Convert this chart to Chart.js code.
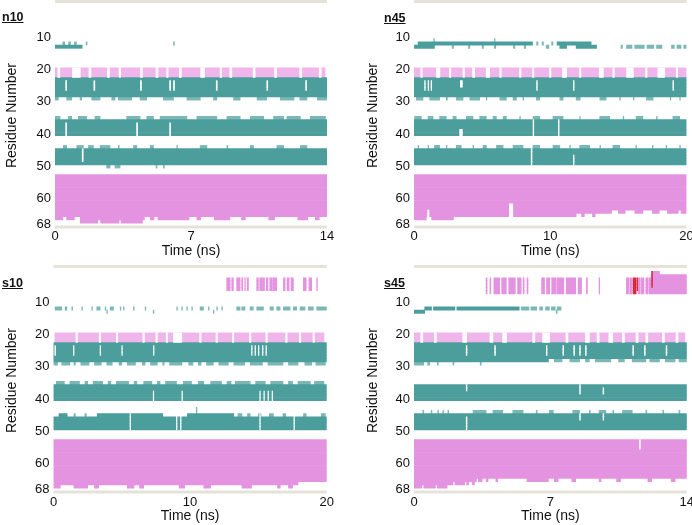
<!DOCTYPE html>
<html>
<head>
<meta charset="utf-8">
<script src="https://cdn.jsdelivr.net/npm/chart.js@4"></script>
<style>
  body { margin: 0; width: 692px; height: 525px; overflow: hidden; position: relative; background: #fff; }
  .box { position: absolute; }
  .tag { position: absolute; font: bold 12.5px "Liberation Sans", Arial, sans-serif; line-height: 14px; text-decoration: underline; color: #111; }
</style>
</head>
<body>
<div class="box" style="left:0;top:0"><canvas id="n10" width="340" height="262"></canvas></div>
<div class="box" style="left:346px;top:0"><canvas id="n45" width="350" height="262"></canvas></div>
<div class="box" style="left:0;top:262px"><canvas id="s10" width="340" height="263"></canvas></div>
<div class="box" style="left:346px;top:262px"><canvas id="s45" width="350" height="263"></canvas></div>
<div class="tag" style="left:2px;top:10px">n10</div>
<div class="tag" style="left:384px;top:11px">n45</div>
<div class="tag" style="left:2px;top:276px">s10</div>
<div class="tag" style="left:384px;top:276px">s45</div>
<script>
// each entry: [first residue, last residue, [[start ns, end ns], ...]]
const residueTicks = [10, 20, 30, 40, 50, 60, 68];
const n10TimeTicks = [0, 7, 14];
const n45TimeTicks = [0, 10, 20];
const s10TimeTicks = [0, 10, 20];
const s45TimeTicks = [0, 7, 14];

const n10Teal = [
  [13, 13, [[0,1.4]]],
  [23, 28, [[0,14]]],
  [36, 40, [[0,14]]],
  [45, 49, [[0,14]]]
];
const n10Edge = [
  [12, 12, [[0.4,0.5],[0.7,0.8],[1.0,1.1],[1.6,1.65],[6.1,6.15]]],
  [29, 29, [[0,0.17],[0.6,0.86],[1.29,1.37],[1.89,2.32],[2.92,3.09],[3.26,3.95],[4.38,4.72],[5.58,6.1],[6.79,7.48],[8.16,8.33],[9.19,9.53],[10.4,10.9],[11.6,12.3],[12.6,12.97],[13.5,14]]],
  [35, 35, [[0,0.26],[0.69,0.86],[1.2,1.63],[2.06,2.32],[3.69,4.38],[4.72,5.07],[5.41,6.79],[7.3,8.33],[8.85,9.53],[10.05,10.74],[11.25,11.77],[11.94,12.63],[13.14,13.92]]],
  [44, 44, [[0.43,0.6],[1.12,1.46],[1.72,1.98],[2.32,2.83],[3.26,3.3],[4.04,4.21],[4.9,5.07],[6.27,6.3],[7.47,7.82],[8.85,8.9],[10.05,10.22],[11.42,11.77],[12.63,12.97]]],
  [50, 50, [[2.66,2.83],[3.09,3.35],[5.2,5.25],[5.58,5.63]]]
];
const n10Pink = [
  [53, 65, [[0,14]]],
  [66, 66, [[0,0.4],[0.6,1.0],[1.3,4.6],[4.9,5.1],[5.3,6.9],[7.3,7.5],[8.2,9.0],[9.6,9.8],[11.0,11.3],[12.5,13.0],[13.4,13.6]]],
  [67, 67, [[1.3,2.2],[2.35,3.3],[3.4,4.5]]]
];
const n10Band = [[20, 22, [[0,13.9]]]];
const n10Red = [];
const n10Gaps = [
  [20, 22, [[0.15,0.25],[0.9,1.3],[1.75,1.85],[2.7,2.8],[3.3,3.38],[4.4,4.5],[5.2,5.3],[5.75,5.82],[6.4,6.5],[7.5,7.7],[8.5,8.58],[9.0,9.1],[10.2,10.3],[11.3,11.4],[12.6,12.7],[13.6,13.7]]],
  [24, 26, [[0.55,0.6],[2.0,2.05],[4.4,4.45],[5.9,5.95],[6.1,6.15],[8.3,8.35],[10.9,10.95],[12.9,12.95]]],
  [37, 40, [[0.55,0.6],[4.2,4.25],[5.9,5.95]]],
  [45, 48, [[1.4,1.45]]]
];

const n45Teal = [
  [12, 12, [[0.3,8.7],[10.5,13.0]]],
  [13, 13, [[0,1.5],[10.7,11.2],[11.9,13.4]]],
  [23, 28, [[0,20]]],
  [36, 40, [[0,20]]],
  [45, 49, [[0,20]]]
];
const n45Edge = [
  [11, 11, [[1.45,1.5],[5.9,5.95]]],
  [12, 12, [[9.0,9.1],[9.4,9.5],[10.1,10.2]]],
  [13, 13, [[2.8,2.9],[4.0,4.1],[5.0,5.1],[5.9,6.0],[7.3,7.4],[8.1,8.2],[9.7,9.9],[15.2,15.3],[15.6,16.0],[16.2,16.9],[17.1,17.6],[17.8,18.2],[18.9,19.1],[19.3,19.6],[19.8,20]]],
  [29, 29, [[0.17,0.66],[1.15,1.88],[2.37,2.45],[3.1,3.6],[4.1,4.82],[5.3,5.35],[6.3,6.78],[7.27,7.52],[8.0,8.05],[8.98,9.23],[10.7,10.95],[11.9,12.2],[13.64,14.1],[15.1,15.15],[16.1,16.15],[17.06,17.55],[18.8,18.85],[19.5,19.55]]],
  [35, 35, [[0.05,0.54],[1.03,1.4],[1.88,2.37],[2.86,3.1],[3.84,4.33],[4.82,5.31],[5.8,6.05],[6.54,6.78],[7.76,7.81],[8.74,9.23],[10.2,10.94],[12.16,12.2],[13.63,14.37],[15.35,15.4],[16.3,16.8],[17.8,17.85],[19.0,19.5]]],
  [44, 44, [[0.3,0.35],[1.03,1.08],[1.5,1.88],[2.37,2.42],[3.1,3.47],[4.33,4.38],[5.07,5.31],[6.05,6.54],[7.27,8.0],[8.74,9.23],[10.2,10.7],[11.43,11.48],[12.16,12.9],[13.64,13.69],[14.6,15.1],[16.28,16.33],[17.5,17.55],[18.5,18.55],[19.5,19.55]]]
];
const n45Pink = [
  [53, 63, [[0,20]]],
  [64, 64, [[0,14.5],[15,15.5],[16.2,16.8],[17.5,18],[18.6,19.4],[19.6,20]]],
  [65, 65, [[0,11.9],[12.3,12.5],[13.1,13.3]]],
  [66, 66, [[0,0.9],[1.3,2.9]]]
];
const n45Band = [[20, 22, [[0,20]]]];
const n45Red = [];
const n45Gaps = [
  [20, 22, [[0.5,0.6],[1.65,1.9],[2.6,2.7],[3.6,3.7],[4.3,4.45],[5.3,5.55],[6.3,6.4],[7.75,7.85],[8.7,8.8],[9.95,10.05],[10.9,11.2],[12.15,12.25],[13.6,13.9],[14.6,14.7],[15.6,16.1],[17.0,17.1],[17.9,18.4],[19.25,19.35]]],
  [24, 26, [[0.78,0.83],[1.03,1.08],[1.25,1.3],[9.0,9.05],[11.7,11.75],[19.0,19.05]]],
  [24, 25, [[3.4,3.55]]],
  [39, 40, [[3.35,3.55]]],
  [36, 40, [[8.74,8.79],[10.6,10.65]]],
  [45, 49, [[8.6,8.66]]],
  [47, 49, [[11.7,11.75]]],
  [62, 65, [[7.0,7.25]]],
  [64, 66, [[1.0,1.1]]]
];

const s10Teal = [
  [23, 28, [[0,20]]],
  [36, 40, [[0,20]]],
  [45, 45, [[0.4,1.0],[3.2,8.0],[9.8,13.2]]],
  [46, 49, [[0,20]]]
];
const s10Edge = [
  [12, 12, [[0.12,0.6],[0.85,0.98],[1.34,1.4],[2.07,2.12],[2.8,2.85],[3.17,3.41],[3.78,3.83],[4.15,4.39],[4.88,4.93],[5.12,5.17],[5.85,5.9],[6.71,6.76],[9.02,9.07],[9.39,9.44],[9.76,9.81],[10.12,10.17],[10.73,10.98],[11.34,11.39],[11.95,12.0],[12.32,12.37],[13.41,13.66],[13.78,14.02],[14.39,14.63],[14.88,15.37],[15.85,16.1],[16.34,16.59],[16.83,17.32],[17.56,17.8],[18.05,18.41],[18.66,19.02],[19.27,20]]],
  [13, 13, [[3.9,3.95],[7.3,7.35],[11.7,11.75]]],
  [29, 29, [[0,0.3],[0.6,1.2],[1.5,1.6],[2.0,2.6],[3.0,3.5],[3.9,4.3],[4.8,5.0],[5.4,6.0],[6.5,6.7],[7.1,7.6],[8.0,8.1],[8.5,9.4],[9.9,10.2],[10.6,10.8],[11.2,11.7],[12.1,12.8],[13.2,14.0],[14.4,15.3],[15.7,16.8],[17.2,17.9],[18.4,18.9],[19.2,19.9]]],
  [35, 35, [[0.2,0.8],[1.2,1.9],[2.3,2.5],[2.9,3.6],[4.0,4.2],[4.6,5.5],[5.9,6.1],[6.6,7.2],[7.6,7.8],[8.2,9.0],[9.5,10.1],[10.6,11.0],[11.5,12.3],[12.7,13.0],[13.3,14.4],[14.8,15.5],[15.9,16.8],[17.2,17.5],[17.9,18.8],[19.1,19.8]]],
  [43, 44, [[10.45,10.5]]],
  [45, 45, [[1.5,1.6],[2.3,2.4],[13.5,13.8],[14.2,14.4],[15,15.2],[15.8,16.1],[16.8,17],[18.3,18.5],[19.6,19.9]]]
];
const s10Pink = [
  [3, 6, [[12.68,12.93],[13.05,13.17],[13.41,13.66],[13.78,14.27],[14.88,15.0],[15.1,15.3],[15.35,16.0],[16.05,16.34],[16.83,16.95],[17.1,17.56],[18.29,18.5],[18.7,18.9],[19.27,19.32]]],
  [53, 65, [[0,20]]],
  [66, 66, [[0,17.9]]],
  [67, 67, [[0,0.5],[1.5,2.5],[3.0,3.3],[5.4,5.9],[6.3,6.6],[9.2,9.6],[11,11.5],[13.8,14.5],[16.4,16.6],[17.2,17.5]]]
];
const s10Band = [[20, 22, [[0.1,19.8]]]];
const s10Red = [];
const s10Gaps = [
  [3, 6, [[13.9,13.95],[14.1,14.13],[15.5,15.53],[15.75,15.78],[17.3,17.33]]],
  [20, 22, [[1.65,1.75],[3.35,3.45],[4.6,4.7],[6.55,6.65],[7.5,7.6],[8.25,8.35],[8.78,9.39],[10.7,10.8],[11.9,12.0],[13.1,13.2],[14.35,14.45],[15.55,15.65],[17.0,17.1],[18.0,18.1],[19.0,19.1]]],
  [24, 26, [[0.1,0.15],[1.46,1.5],[3.41,3.45],[5.0,5.04],[7.32,7.36],[14.5,14.54],[14.75,14.79],[15.0,15.04],[15.3,15.34],[15.55,15.59]]],
  [38, 40, [[7.3,7.34],[9.4,9.44],[15.1,15.14],[15.4,15.44],[15.7,15.74],[16.0,16.04]]],
  [45, 49, [[5.6,5.64],[9.0,9.04],[9.3,9.34],[15.1,15.14],[17.6,17.64]]]
];

const s45Teal = [
  [12, 12, [[0.55,0.9],[1.0,2.1],[2.2,5.4]]],
  [13, 13, [[0,0.55]]],
  [23, 27, [[0,14]]],
  [28, 28, [[0,6.9]]],
  [36, 40, [[0,14]]],
  [45, 49, [[0,14]]]
];
const s45Edge = [
  [12, 12, [[5.5,5.9],[6.0,6.3],[6.45,6.6],[6.75,6.95],[7.05,7.25],[7.35,7.55]]],
  [13, 13, [[7.3,7.35]]],
  [28, 28, [[7.2,7.6],[8.0,8.5],[8.8,9.0],[9.3,10.1],[10.5,10.8],[11.2,11.9],[12.1,12.6],[12.9,13.4],[13.6,14]]],
  [29, 29, [[0,0.5],[0.7,0.8],[1.2,1.25],[2.0,2.05],[3.4,3.45]]],
  [44, 44, [[0.45,0.5],[0.88,0.92],[1.22,1.26],[1.48,1.52],[1.74,1.78],[3.03,3.7],[4.05,4.55],[5.07,5.6],[6.27,6.32],[6.95,7.15],[8.15,8.5],[9.0,9.05],[9.5,9.85],[10.2,10.25],[10.7,11.2],[11.9,11.95],[12.77,12.82],[13.6,13.65]]]
];
const s45Pink = [
  [1, 1, [[12.2,12.6]]],
  [2, 2, [[12.17,14]]],
  [3, 7, [[3.7,3.75],[3.9,3.95],[4.1,4.4],[4.5,4.75],[4.85,5.2],[5.3,5.5],[5.6,5.65],[5.8,5.85],[6.55,6.7],[6.8,7.3],[7.35,7.7],[7.8,8.3],[8.4,8.6],[8.85,8.9],[9.5,9.53],[10.9,11.05],[11.1,11.2],[11.5,11.6],[11.65,11.8],[11.9,12.0],[12.05,14]]],
  [53, 64, [[0,14]]],
  [65, 65, [[0,3.2],[3.3,3.5],[3.7,3.8],[4.2,4.3],[5.8,6.9],[7.2,7.4],[8.1,8.3],[9.5,9.6],[10.4,10.6],[12.0,12.2],[13.2,13.4]]],
  [66, 66, [[0,2.0],[2.1,2.6],[2.7,2.8],[3.0,3.1]]],
  [67, 67, [[0,0.4],[0.5,1.1],[1.2,1.7]]]
];
const s45Band = [[20, 22, [[0,13.9]]]];
const s45Red = [
  [3, 7, [[11.25,11.4]]],
  [3, 6, [[11.45,11.48]]],
  [1, 5, [[12.2,12.24]]]
];
const s45Gaps = [
  [3, 7, [[4.0,4.04],[4.78,4.82],[5.25,5.28],[7.0,7.03],[7.74,7.77],[8.35,8.38]]],
  [20, 22, [[0.35,0.45],[1.05,1.15],[2.5,2.7],[3.9,4.05],[4.55,4.75],[6.1,6.2],[6.6,6.96],[7.8,7.9],[8.8,9.0],[9.4,9.5],[10.0,10.2],[10.7,10.8],[11.4,11.5],[11.9,12.0],[12.75,12.85],[13.45,13.55]]],
  [24, 26, [[2.68,2.72],[4.14,4.18],[6.79,6.83],[7.64,7.68],[8.2,8.24],[8.5,8.54],[8.8,8.84],[11.23,11.27],[11.83,11.87],[12.94,12.98]]],
  [36, 37, [[2.68,2.72]]],
  [36, 38, [[8.5,8.54]]],
  [37, 38, [[9.7,9.74]]],
  [46, 49, [[2.68,2.72]]],
  [45, 46, [[8.5,8.54],[9.7,9.74]]],
  [53, 55, [[11.57,11.62]]]
];

const COLORS = { band: '#f0b6ec', pink: '#e493e0', teal: '#4b9e9c', edge: '#7ab7b5', red: '#d8283a', gap: '#ffffff' };
const FRAME = '#e5e3d7';

Chart.defaults.font.family = '"Liberation Sans", Arial, sans-serif';
Chart.defaults.color = '#111';

function expand(list, kind) {
  const out = [];
  list.forEach(([r0, r1, spans]) => {
    for (let r = r0; r <= r1; r++) spans.forEach(s => out.push({ y: r, x: s, k: kind }));
  });
  return out;
}

const framePlugin = {
  id: 'frame',
  afterDraw(chart) {
    const { ctx, chartArea: a } = chart;
    ctx.save();
    ctx.fillStyle = FRAME;
    ctx.fillRect(a.left, a.top - 3, a.right - a.left, 3);
    ctx.fillRect(a.left, a.bottom - 2.5, a.right - a.left, 3);
    ctx.restore();
  }
};

function panel(id, timeTicks, s, yWidth, pad, tickPad) {
  const data = [].concat(expand(s.band, 'band'), expand(s.pink, 'pink'), expand(s.edge, 'edge'),
    expand(s.teal, 'teal'), expand(s.red, 'red'), expand(s.gaps, 'gap'));
  new Chart(document.getElementById(id), {
    type: 'bar',
    data: {
      datasets: [{
        data: data,
        backgroundColor: c => COLORS[c.raw ? c.raw.k : 'teal'],
        barPercentage: 1,
        categoryPercentage: 1,
        borderWidth: 0
      }]
    },
    options: {
      indexAxis: 'y',
      responsive: false,
      animation: false,
      layout: { padding: pad },
      plugins: { legend: { display: false }, tooltip: { enabled: false } },
      scales: {
        x: {
          type: 'linear',
          offset: false,
          min: timeTicks[0],
          max: timeTicks[timeTicks.length - 1],
          grid: { display: false, drawTicks: false },
          border: { display: false },
          afterBuildTicks: sc => { sc.ticks = timeTicks.map(v => ({ value: v })); },
          afterFit: sc => { sc.height = 32; },
          ticks: { padding: tickPad, maxRotation: 0, font: { size: 13 } },
          title: { display: true, text: 'Time (ns)', font: { size: 14 }, padding: 0 }
        },
        y: {
          type: 'linear',
          offset: false,
          reverse: true,
          min: -0.5,
          max: 69,
          grid: { display: false, drawTicks: false },
          border: { display: false },
          afterBuildTicks: sc => { sc.ticks = residueTicks.map(v => ({ value: v })); },
          afterFit: sc => { sc.width = yWidth; sc.paddingTop = 0; sc.paddingBottom = 0; },
          ticks: { padding: 4, font: { size: 13 } },
          title: { display: true, text: 'Residue Number', font: { size: 14 } }
        }
      }
    },
    plugins: [framePlugin]
  });
}

panel('n10', n10TimeTicks, { teal: n10Teal, edge: n10Edge, pink: n10Pink, band: n10Band, red: n10Red, gaps: n10Gaps }, 55, { left: 0, top: 3, right: 13, bottom: 2 }, 1);
panel('n45', n45TimeTicks, { teal: n45Teal, edge: n45Edge, pink: n45Pink, band: n45Band, red: n45Red, gaps: n45Gaps }, 53, { left: 15, top: 3, right: 9.5, bottom: 2 }, 1);
panel('s10', s10TimeTicks, { teal: s10Teal, edge: s10Edge, pink: s10Pink, band: s10Band, red: s10Red, gaps: s10Gaps }, 53.5, { left: 0, top: 6, right: 13.3, bottom: 0 }, 2);
panel('s45', s45TimeTicks, { teal: s45Teal, edge: s45Edge, pink: s45Pink, band: s45Band, red: s45Red, gaps: s45Gaps }, 53, { left: 15, top: 6, right: 9, bottom: 0 }, 2);
</script>
</body>
</html>
